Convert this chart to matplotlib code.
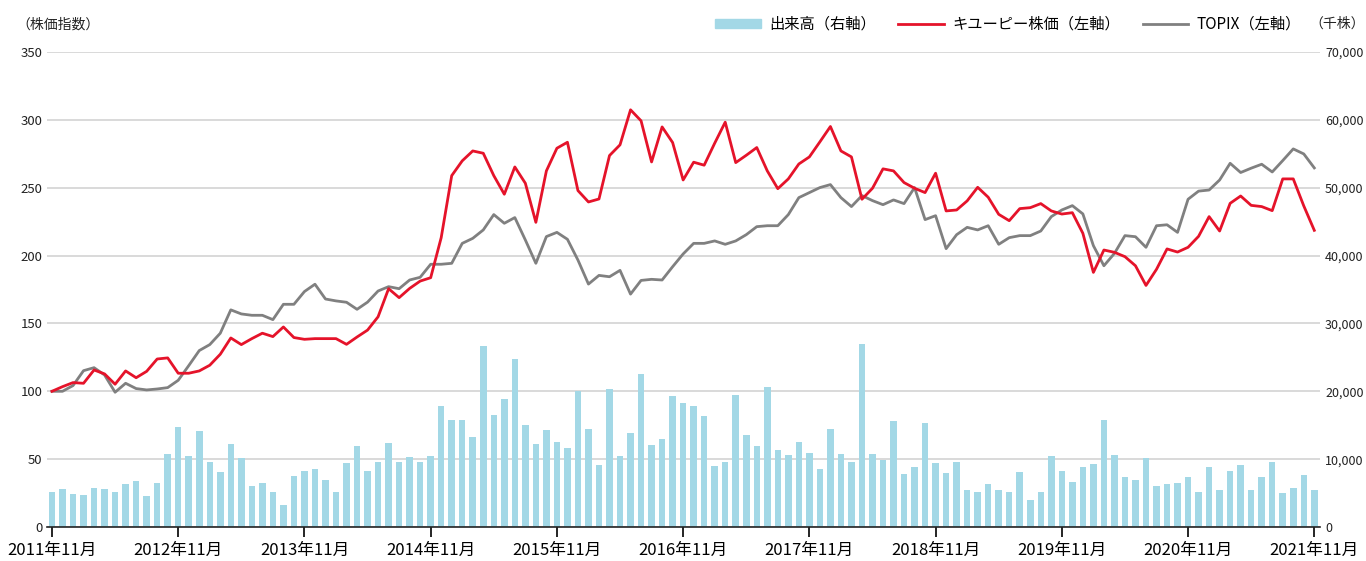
import matplotlib
matplotlib.use("Agg")
import matplotlib.pyplot as plt
import numpy as np
from matplotlib.patches import Patch
from matplotlib.lines import Line2D

plt.rcParams['font.family'] = ['Noto Sans CJK JP', 'DejaVu Sans']

# 出来高（千株）月次 2011年11月〜2021年11月
volume = [5.2, 5.6, 4.8, 4.65, 5.8, 5.6, 5.1, 6.3, 6.8, 4.5,
          6.5, 10.7, 14.7, 10.5, 14.1, 9.6, 8.1, 12.2, 10.1, 6.1,
          6.5, 5.2, 3.2, 7.5, 8.2, 8.6, 7.0, 5.2, 9.4, 12.0,
          8.3, 9.6, 12.4, 9.6, 10.3, 9.6, 10.4, 17.9, 15.7, 15.8,
          13.3, 26.7, 16.5, 18.9, 24.8, 15.0, 12.3, 14.3, 12.5, 11.7,
          20.0, 14.5, 9.1, 20.3, 10.5, 13.8, 22.6, 12.1, 12.9, 19.3,
          18.3, 17.8, 16.3, 9.0, 9.6, 19.4, 13.5, 12.0, 20.6, 11.4,
          10.6, 12.6, 10.9, 8.6, 14.4, 10.7, 9.6, 26.9, 10.7, 9.9,
          15.6, 7.8, 8.9, 15.3, 9.4, 8.0, 9.6, 5.5, 5.1, 6.4,
          5.5, 5.1, 8.1, 4.0, 5.2, 10.4, 8.2, 6.7, 8.9, 9.3,
          15.8, 10.6, 7.3, 6.9, 10.1, 6.1, 6.4, 6.5, 7.4, 5.2,
          8.8, 5.4, 8.2, 9.1, 5.4, 7.3, 9.6, 5.0, 5.8, 7.7,
          5.5]

# キユーピー株価（指数）
kewpie = [100, 103.4, 106.4, 105.9, 115.7, 112.8, 105.2, 115, 110, 114.7,
          123.8, 124.6, 113.3, 113.3, 115, 119.2, 127.3, 139.3, 134.4, 138.8,
          142.8, 140.3, 147.4, 139.6, 138.3, 138.8, 138.8, 138.8, 134.6, 140,
          145.1, 154.9, 175.6, 169, 175.8, 181.2, 183.7, 213.2, 258.9, 269.8,
          277.1, 275.4, 258.9, 245.2, 265.3, 253.3, 224.5, 262.4, 279.1, 283.5,
          247.9, 239.5, 241.7, 273.7, 281.6, 307.4, 299.3, 269, 294.8, 283.3,
          255.7, 268.8, 266.6, 282.8, 298.3, 268.5, 273.9, 279.6, 262.4, 249.3,
          256.5, 267.5, 272.7, 283.8, 295.1, 277.1, 272.7, 241.5, 249.6, 263.9,
          262.4, 253.8, 249.6, 246.4, 260.7, 232.9, 233.6, 240.3, 250.3, 243,
          230.4, 225.7, 234.6, 235.3, 238.3, 232.9, 230.6, 231.6, 216.4, 187.6,
          204.1, 202.4, 199.2, 192.5, 178, 189.9, 204.9, 202.6, 206.1, 214.2,
          228.7, 218.1, 238.5, 243.9, 237, 236.1, 233.1, 256.5, 256.5, 236.6,
          218.6]

# TOPIX（指数）
topix = [100, 100, 104.2, 115.2, 117.4, 112, 99.3, 105.9, 102, 101,
         101.7, 102.7, 108.1, 118.9, 130, 134.4, 142.8, 160, 157, 156,
         156, 152.8, 164.1, 164.1, 173.5, 178.9, 168, 166.6, 165.6, 160.4,
         165.7, 173.9, 177.1, 175.6, 182, 184, 193.6, 193.6, 194.3, 209,
         212.7, 218.9, 230.2, 223.8, 228, 211.5, 194.3, 214, 217.1, 212,
         196.7, 179, 185.4, 184.4, 189.1, 171.6, 181.7, 182.5, 182, 191.8,
         201.2, 209, 209, 210.8, 208.3, 210.8, 215.4, 221.3, 222, 222,
         230.2, 242.7, 246.4, 250.1, 252.3, 242.7, 236.1, 244.2, 240.5, 237.5,
         241, 238.3, 250.1, 226.5, 229.4, 205.1, 215.4, 220.8, 218.9, 222,
         208.3, 213.2, 214.7, 214.7, 218.1, 228.7, 233.6, 236.8, 230.7, 207.3,
         192.5, 201.6, 214.7, 213.9, 206.1, 222, 222.7, 217.1, 241.5, 247.5,
         248.3, 255.7, 268, 261.2, 264.4, 267.3, 261.6, 270, 278.6, 274.9,
         264.6]

tick_labels = ['%d年11月' % y for y in range(2011, 2022)]

x = np.arange(len(volume))
vol = np.array(volume) * 1000

fig = plt.figure(figsize=(13.66, 5.61), dpi=100)
ax = fig.add_axes([0.0342, 0.0606, 0.9318, 0.8467])
ax2 = ax.twinx()
ax.set_zorder(ax2.get_zorder() + 1)
ax.patch.set_visible(False)

# 出来高（右軸）
ax2.bar(x, vol, width=0.62, color='#a3d8e6', zorder=2)
ax2.set_ylim(0, 70000)
ax2.set_yticks(np.arange(0, 70001, 10000))
ax2.set_yticklabels(['{:,}'.format(v) for v in range(0, 70001, 10000)], fontsize=9)
ax2.yaxis.grid(True, color='#cfcfcf', linewidth=1.1, zorder=0)
ax2.set_axisbelow(True)
ax2.tick_params(axis='y', length=0, pad=4, colors='#222222')

# 株価指数（左軸）
ax.plot(x, kewpie, color='#e5132a', linewidth=2, zorder=4)
ax.plot(x, topix, color='#808080', linewidth=2, zorder=3)
ax.set_ylim(0, 350)
ax.set_yticks(range(0, 351, 50))
ax.tick_params(axis='y', length=0, pad=3, labelsize=9.5, colors='#222222')
ax.set_xlim(-0.5, len(x) - 0.5)
ax.set_xticks(range(0, 121, 12))
ax.set_xticklabels(tick_labels, fontsize=12)
ax.tick_params(axis='x', length=7, width=1.2, direction='out', pad=4)

for a in (ax, ax2):
    for s in ('top', 'left', 'right'):
        a.spines[s].set_visible(False)
ax2.spines['bottom'].set_visible(False)
ax.spines['bottom'].set_linewidth(1.2)
ax.spines['bottom'].set_color('#222222')

fig.text(0.012, 0.957, '（株価指数）', fontsize=10, color='#222222', va='center')
fig.text(0.999, 0.957, '（千株）', fontsize=10, color='#222222', va='center', ha='right')

handles = [Patch(color='#a3d8e6'),
           Line2D([], [], color='#e5132a', linewidth=2),
           Line2D([], [], color='#808080', linewidth=2)]
labels = ['出来高（右軸）', 'キユーピー株価（左軸）', 'TOPIX（左軸）']
fig.legend(handles, labels, ncol=3, frameon=False, fontsize=11,
           loc='center right', bbox_to_anchor=(0.952, 0.957),
           handlelength=3.0, handleheight=0.55, handletextpad=0.5,
           columnspacing=1.5, borderaxespad=0, borderpad=0)

fig.savefig('out.png', dpi=100)
